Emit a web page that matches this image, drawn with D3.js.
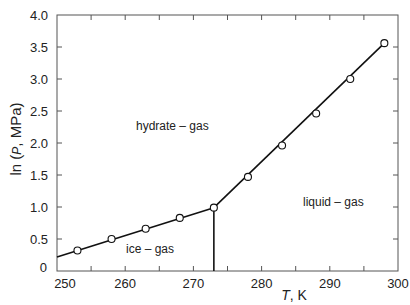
<!DOCTYPE html>
<html>
<head>
<meta charset="utf-8">
<script src="https://d3js.org/d3.v7.min.js"></script>
<style>
  body { margin: 0; background: #fff; }
  svg text { font-family: "Liberation Sans", Arial, sans-serif; fill: #222; }
</style>
</head>
<body>
<script>
// measured points
var iceT = [253, 258, 263, 268, 273]
var iceLnP = [0.32, 0.50, 0.66, 0.83, 0.99]
var liqT = [278, 283, 288, 293, 298]
var liqLnP = [1.47, 1.96, 2.46, 3.00, 3.56]

// fitted lines
var iceFit = [[250, 0.22], [273, 0.99]]
var liqFit = [[273, 0.99], [298, 3.56]]
var iceWall = [[273, 0], [273, 0.99]]

var xTicks = [250, 260, 270, 280, 290, 300]
var xMinor = [255, 265, 275, 285, 295]
var yTicks = [0, 0.5, 1.0, 1.5, 2.0, 2.5, 3.0, 3.5, 4.0]

var W = 410, H = 305
var m = {left: 57, right: 12, top: 15, bottom: 34}

var svg = d3.select('body').append('svg')
  .attr('width', W).attr('height', H)

var x = d3.scaleLinear().domain([250, 300]).range([m.left, W - m.right])
var y = d3.scaleLinear().domain([0, 4]).range([H - m.bottom, m.top])

// frame
svg.append('rect')
  .attr('x', x(250)).attr('y', y(4))
  .attr('width', x(300) - x(250)).attr('height', y(0) - y(4))
  .attr('fill', 'none').attr('stroke', '#555').attr('stroke-width', 1)

var tl = 5
// inward ticks on all four sides
var allX = xTicks.concat(xMinor).filter(function(t){ return t > 250 && t < 300 })
allX.forEach(function(t) {
  svg.append('line').attr('x1', x(t)).attr('x2', x(t))
    .attr('y1', y(0)).attr('y2', y(0) - tl).attr('stroke', '#555')
  svg.append('line').attr('x1', x(t)).attr('x2', x(t))
    .attr('y1', y(4)).attr('y2', y(4) + tl).attr('stroke', '#555')
})
yTicks.filter(function(t){ return t > 0 && t < 4 }).forEach(function(t) {
  svg.append('line').attr('x1', x(250)).attr('x2', x(250) + tl)
    .attr('y1', y(t)).attr('y2', y(t)).attr('stroke', '#555')
  svg.append('line').attr('x1', x(300)).attr('x2', x(300) - tl)
    .attr('y1', y(t)).attr('y2', y(t)).attr('stroke', '#555')
})

// tick labels (first x label nudged right to clear the 0)
svg.selectAll('.xl').data(xTicks).enter().append('text')
  .attr('x', function(d){ return d === 250 ? x(d) + 8 : x(d) })
  .attr('y', y(0) + 17)
  .attr('text-anchor', 'middle').attr('font-size', 13)
  .text(function(d){ return d })

svg.selectAll('.yl').data(yTicks).enter().append('text')
  .attr('x', function(d){ return d === 0 ? x(250) - 10 : x(250) - 9 })
  .attr('y', function(d){ return d === 0 ? y(d) + 1 : y(d) + 4.5 })
  .attr('text-anchor', 'end').attr('font-size', 13)
  .text(function(d){ return d === 0 ? '0' : d.toFixed(1) })

// axis titles
svg.append('text')
  .attr('transform', 'translate(21,' + 139 + ') rotate(-90)')
  .attr('text-anchor', 'middle').attr('font-size', 15)
  .html('ln (<tspan font-style="italic" font-size="12">P</tspan>, MPa)')

svg.append('text')
  .attr('x', 294).attr('y', 300)
  .attr('text-anchor', 'middle').attr('font-size', 14)
  .html('<tspan font-style="italic">T</tspan>, K')

// lines
var line = d3.line().x(function(d){ return x(d[0]) }).y(function(d){ return y(d[1]) })
;[iceFit, liqFit, iceWall].forEach(function(seg) {
  svg.append('path').attr('d', line(seg))
    .attr('fill', 'none').attr('stroke', '#111').attr('stroke-width', 1.6)
})

// markers
var pts = iceT.map(function(t, i){ return [t, iceLnP[i]] })
  .concat(liqT.map(function(t, i){ return [t, liqLnP[i]] }))
svg.selectAll('circle').data(pts).enter().append('circle')
  .attr('cx', function(d){ return x(d[0]) })
  .attr('cy', function(d){ return y(d[1]) })
  .attr('r', 3.5)
  .attr('fill', '#fff').attr('stroke', '#111').attr('stroke-width', 1.1)

// region labels
svg.append('text').attr('x', 136).attr('y', 130).attr('font-size', 12).text('hydrate – gas')
svg.append('text').attr('x', 303).attr('y', 206).attr('font-size', 12).text('liquid – gas')
svg.append('text').attr('x', 126).attr('y', 253).attr('font-size', 12).text('ice – gas')
</script>
</body>
</html>
